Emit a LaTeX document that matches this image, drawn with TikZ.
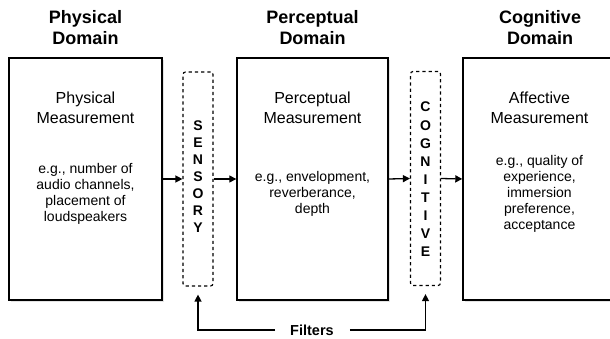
\documentclass[tikz,border=0pt]{standalone}
\usepackage{fontspec}
\setmainfont{Liberation Sans}
\usetikzlibrary{arrows.meta,shadows}
\begin{document}
\begin{tikzpicture}[x=1pt,y=-1pt,
  domtitle/.style={font=\fontsize{18}{21}\selectfont\bfseries, align=center, inner sep=0pt},
  mbox/.style={draw, line width=1.4pt, minimum height=242pt, inner sep=0pt, fill=white,
    drop shadow={shadow xshift=1.5pt, shadow yshift=-1.8pt, fill=black!22}},
  headtxt/.style={font=\fontsize{16}{20}\selectfont, align=center, inner sep=0pt},
  extxt/.style={font=\fontsize{14}{16}\selectfont, align=center, inner sep=0pt},
  filterbox/.style={draw, dashed, dash pattern=on 3.2pt off 3pt, line width=1.2pt, rounded corners=2.5pt,
    minimum width=30pt, minimum height=214pt, inner sep=0pt},
  lettxt/.style={font=\fontsize{14}{#1}\selectfont\bfseries, align=center, inner sep=0pt},
  arr/.style={line width=1.3pt, -{Triangle[length=7pt,width=7pt]}},
]
\useasboundingbox (0,0) rectangle (610,339);

% domain titles
\node[domtitle] (t1) at (85.5,28) {Physical\\Domain};
\node[domtitle] (t2) at (312.5,28) {Perceptual\\Domain};
\node[domtitle] (t3) at (540,28) {Cognitive\\Domain};

% main boxes
\node[mbox, minimum width=153pt] (b1) at (85.5,179) {};
\node[mbox, minimum width=151pt] (b2) at (312.5,179) {};
\node[mbox, minimum width=153pt] (b3) at (539.5,179) {};

\node[headtxt] (h1) at (85.5,108) {Physical\\Measurement};
\node[headtxt] (h2) at (312.5,108) {Perceptual\\Measurement};
\node[headtxt] (h3) at (539.5,108) {Affective\\Measurement};

\node[extxt] (e1) at (85.5,194) {e.g., number of\\audio channels,\\placement of\\loudspeakers};
\node[extxt] (e2) at (312.5,194) {e.g., envelopment,\\reverberance,\\depth};
\node[extxt] (e3) at (539.5,194) {e.g., quality of\\experience,\\immersion\\preference,\\acceptance};

% filter boxes
\node[filterbox] (sens) at (198,179) {};
\node[filterbox] (cog) at (425.5,178.5) {};
\node[lettxt=17] (sensl) at (198,177) {S\\E\\N\\S\\O\\R\\Y};
\node[lettxt=18.1] (cogl) at (425.5,179.5) {C\\O\\G\\N\\I\\T\\I\\V\\E};

% arrows between boxes
\draw[arr] (b1.east) -- (sens.west);
\draw[arr] (sens.east) -- (b2.west);
\draw[arr] (b2.east) -- (cog.west);
\draw[arr] (cog.east) -- (b3.west);

% filters
\node[font=\fontsize{14.5}{17}\selectfont\bfseries, inner sep=0pt] (filt) at (312,330) {Filters};
\coordinate (fl) at ([xshift=-15pt]filt.west);
\coordinate (fr) at ([xshift=16pt]filt.east);
\draw[arr, shorten >=8pt] (fl) -| (sens.south);
\draw[arr, shorten >=8pt] (fr) -| (cog.south);
\end{tikzpicture}
\end{document}
